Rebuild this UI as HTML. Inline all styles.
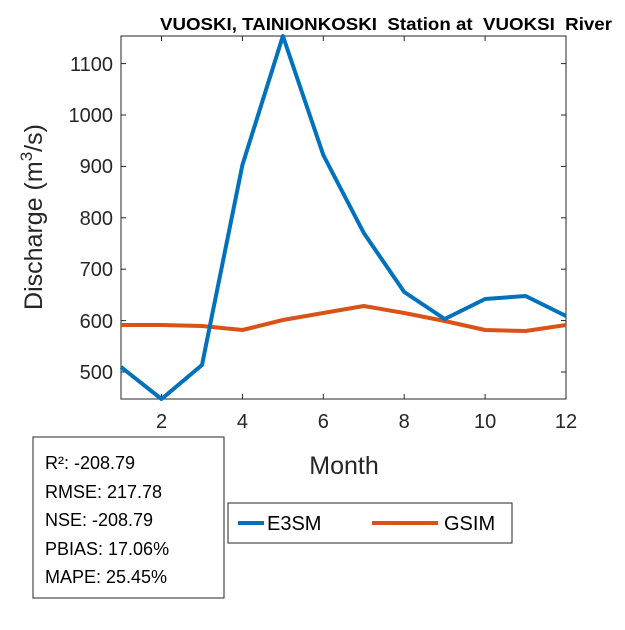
<!DOCTYPE html><html><head><style>body{margin:0;background:#fff}</style></head><body>
<svg width="625" height="625" xmlns="http://www.w3.org/2000/svg" font-family="Liberation Sans, Arial, sans-serif">
<rect width="625" height="625" fill="#fff"/>
<text x="386" y="30" font-size="17.5" font-weight="bold" text-anchor="middle" fill="#000" textLength="452" lengthAdjust="spacingAndGlyphs" xml:space="preserve">VUOSKI, TAINIONKOSKI  Station at  VUOKSI  River</text>
<rect x="121" y="36" width="445" height="363" fill="none" stroke="#262626" stroke-width="1"/>
<g stroke="#262626" stroke-width="1">
<line x1="161.5" y1="399" x2="161.5" y2="394"/><line x1="242.4" y1="399" x2="242.4" y2="394"/><line x1="323.3" y1="399" x2="323.3" y2="394"/><line x1="404.2" y1="399" x2="404.2" y2="394"/><line x1="485.1" y1="399" x2="485.1" y2="394"/>
<line x1="161.5" y1="36" x2="161.5" y2="41"/><line x1="242.4" y1="36" x2="242.4" y2="41"/><line x1="323.3" y1="36" x2="323.3" y2="41"/><line x1="404.2" y1="36" x2="404.2" y2="41"/><line x1="485.1" y1="36" x2="485.1" y2="41"/>
<line x1="121" y1="372" x2="126" y2="372"/><line x1="121" y1="320.6" x2="126" y2="320.6"/><line x1="121" y1="269.2" x2="126" y2="269.2"/><line x1="121" y1="217.8" x2="126" y2="217.8"/><line x1="121" y1="166.4" x2="126" y2="166.4"/><line x1="121" y1="115" x2="126" y2="115"/><line x1="121" y1="63.6" x2="126" y2="63.6"/>
<line x1="566" y1="372" x2="561" y2="372"/><line x1="566" y1="320.6" x2="561" y2="320.6"/><line x1="566" y1="269.2" x2="561" y2="269.2"/><line x1="566" y1="217.8" x2="561" y2="217.8"/><line x1="566" y1="166.4" x2="561" y2="166.4"/><line x1="566" y1="115" x2="561" y2="115"/><line x1="566" y1="63.6" x2="561" y2="63.6"/>
</g>
<g font-size="20" fill="#262626" text-anchor="end">
<text x="113" y="379">500</text><text x="113" y="328">600</text><text x="113" y="276">700</text><text x="113" y="225">800</text><text x="113" y="173">900</text><text x="113" y="122">1000</text><text x="113" y="71">1100</text>
</g>
<g font-size="20" fill="#262626" text-anchor="middle">
<text x="161.5" y="428">2</text><text x="242.4" y="428">4</text><text x="323.3" y="428">6</text><text x="404.2" y="428">8</text><text x="485.1" y="428">10</text><text x="566" y="428">12</text>
</g>
<text x="344" y="474" font-size="25" fill="#262626" text-anchor="middle">Month</text>
<text transform="translate(42,217) rotate(-90)" font-size="25" fill="#262626" text-anchor="middle">Discharge (m<tspan font-size="17" dy="-10">3</tspan><tspan dy="10">/s)</tspan></text>
<polyline fill="none" stroke="#D95319" stroke-width="4" stroke-linejoin="round" points="121,325 161.5,325 202,326 242.4,330 282.9,320 323.3,313 363.8,306 404.2,313 444.7,321 485.1,330 525.6,331 566,325"/>
<polyline fill="none" stroke="#0072BD" stroke-width="4" stroke-linejoin="round" points="121,367 161.5,399 202,365 242.4,165 282.9,36 323.3,155 363.8,233 404.2,292 444.7,319 485.1,299 525.6,296 566,316"/>
<rect x="228" y="503" width="284" height="40" fill="#fff" stroke="#262626"/>
<line x1="238" y1="523" x2="264" y2="523" stroke="#0072BD" stroke-width="4"/>
<text x="267" y="530" font-size="20" fill="#000">E3SM</text>
<line x1="372" y1="523" x2="438" y2="523" stroke="#D95319" stroke-width="4"/>
<text x="444" y="530" font-size="20" fill="#000">GSIM</text>
<rect x="33" y="437" width="191" height="161" fill="#fff" stroke="#262626"/>
<g font-size="18" fill="#000">
<text x="45" y="469">R²: -208.79</text><text x="45" y="498">RMSE: 217.78</text><text x="45" y="526">NSE: -208.79</text><text x="45" y="555">PBIAS: 17.06%</text><text x="45" y="583">MAPE: 25.45%</text>
</g>
</svg></body></html>
